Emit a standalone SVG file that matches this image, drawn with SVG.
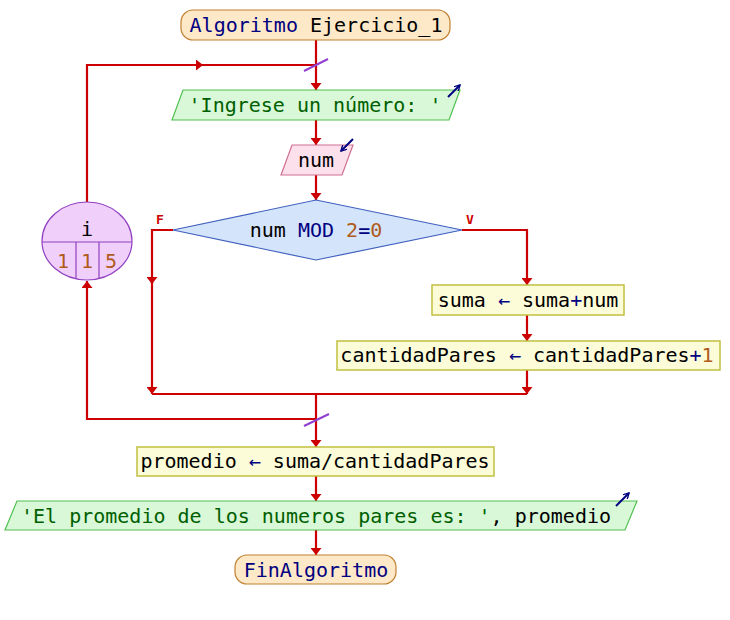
<svg xmlns="http://www.w3.org/2000/svg" width="730" height="620" viewBox="0 0 730 620">
<defs>
<marker id="ah" viewBox="0 0 7 11" refX="7" refY="5.5" markerWidth="7" markerHeight="11" markerUnits="userSpaceOnUse" orient="auto">
<path d="M0,0 L7,5.5 L0,11 z" fill="#cc0000"/>
</marker>
<marker id="ih" viewBox="0 0 8 8" refX="7" refY="4" markerWidth="7" markerHeight="7" markerUnits="userSpaceOnUse" orient="auto">
<path d="M0,0 L7,4 L0,8" fill="none" stroke="#000080" stroke-width="1.6"/>
</marker>
<style>
text{font-family:"DejaVu Sans Mono","Liberation Mono",monospace;font-size:20px;fill:#000}
.kw{fill:#000080}
.num{fill:#b05a20}
.str{fill:#006000}
.c{fill:none;stroke:#cc0000;stroke-width:2.2}
.term{fill:#fde8c8;stroke:#c08030;stroke-width:1.2}
.io{fill:#d8f8d8;stroke:#50c050;stroke-width:1.2}
.in{fill:#fce0ec;stroke:#d07090;stroke-width:1.2}
.dec{fill:#d4e4fa;stroke:#4060c0;stroke-width:1.2}
.proc{fill:#fdfcd8;stroke:#c0c040;stroke-width:1.5}
.loop{fill:#f0d0fa;stroke:#9040c0;stroke-width:1.2}
.icon{fill:none;stroke:#000080;stroke-width:2}
.slash{stroke:#9040d0;stroke-width:2}
.lbl{fill:#cc0000;font-size:13px;font-weight:bold}
</style>
</defs>
<g id="connectors">
<path class="c" d="M316,40 V90" marker-end="url(#ah)"/>
<path class="c" d="M316,120 V145" marker-end="url(#ah)"/>
<path class="c" d="M316,175 V200" marker-end="url(#ah)"/>
<path class="c" d="M462,230 H527 V285" marker-end="url(#ah)"/>
<path class="c" d="M527,315 V341" marker-end="url(#ah)"/>
<path class="c" d="M527,370 V394" marker-end="url(#ah)"/>
<path class="c" d="M173,230 H152 V284" marker-end="url(#ah)"/>
<path class="c" d="M152,282 V394" marker-end="url(#ah)"/>
<path class="c" d="M152,394 H527"/>
<path class="c" d="M316,394 V447" marker-end="url(#ah)"/>
<path class="c" d="M316,419 H87 V281" marker-end="url(#ah)"/>
<path class="c" d="M87,203 V65 H203" marker-end="url(#ah)"/>
<path class="c" d="M200,65 H316"/>
<path class="c" d="M316,476 V501" marker-end="url(#ah)"/>
<path class="c" d="M316,530 V555" marker-end="url(#ah)"/>
<line class="slash" x1="304" y1="71" x2="328" y2="59"/>
<line class="slash" x1="304" y1="426" x2="329" y2="414"/>
<text class="lbl" x="160" y="224" text-anchor="middle">F</text>
<text class="lbl" x="470" y="224" text-anchor="middle">V</text>
</g>
<g id="start">
<rect class="term" x="181" y="10" width="269" height="30" rx="12"/>
<text x="316" y="32" text-anchor="middle"><tspan class="kw">Algoritmo</tspan> Ejercicio_1</text>
</g>
<g id="read-prompt">
<polygon class="io" points="183,90 460,90 449,120 172,120"/>
<text x="315" y="112" text-anchor="middle" class="str">'Ingrese un número: '</text>
<line class="icon" x1="448" y1="97" x2="460" y2="85" marker-end="url(#ih)"/>
</g>
<g id="read-num">
<polygon class="in" points="292,145 353,145 342,175 281,175"/>
<text x="316" y="167" text-anchor="middle">num</text>
<line class="icon" x1="353" y1="139" x2="341" y2="151" marker-end="url(#ih)"/>
</g>
<g id="decision">
<polygon class="dec" points="316,200 462,230 316,260 173,230"/>
<text x="316" y="237" text-anchor="middle">num <tspan class="kw">MOD</tspan> <tspan class="num">2</tspan><tspan class="kw">=</tspan><tspan class="num">0</tspan></text>
</g>
<g id="suma">
<rect class="proc" x="432" y="285" width="192" height="30"/>
<text x="528" y="307" text-anchor="middle">suma <tspan class="kw">←</tspan> suma<tspan class="kw">+</tspan>num</text>
</g>
<g id="cantidad">
<rect class="proc" x="337" y="341" width="383" height="29"/>
<text x="527" y="362" text-anchor="middle">cantidadPares <tspan class="kw">←</tspan> cantidadPares<tspan class="kw">+</tspan><tspan class="num">1</tspan></text>
</g>
<g id="loop-i">
<ellipse class="loop" cx="87" cy="241" rx="45" ry="39"/>
<line x1="42" y1="242" x2="132" y2="242" stroke="#9040c0" stroke-width="1.2"/>
<line x1="76" y1="242" x2="76" y2="278" stroke="#9040c0" stroke-width="1.2"/>
<line x1="99" y1="242" x2="99" y2="278" stroke="#9040c0" stroke-width="1.2"/>
<text x="87" y="236" text-anchor="middle">i</text>
<text x="63" y="268" text-anchor="middle" class="num">1</text>
<text x="87" y="268" text-anchor="middle" class="num">1</text>
<text x="111" y="268" text-anchor="middle" class="num">5</text>
</g>
<g id="promedio">
<rect class="proc" x="137" y="447" width="357" height="29"/>
<text x="315" y="468" text-anchor="middle">promedio <tspan class="kw">←</tspan> suma/cantidadPares</text>
</g>
<g id="write-result">
<polygon class="io" points="17,501 637,501 625,530 5,530"/>
<text x="316" y="523" text-anchor="middle"><tspan class="str">'El promedio de los numeros pares es: '</tspan>, promedio</text>
<line class="icon" x1="616" y1="506" x2="629" y2="493" marker-end="url(#ih)"/>
</g>
<g id="end">
<rect class="term" x="235" y="555" width="161" height="29" rx="12"/>
<text x="316" y="577" text-anchor="middle" class="kw">FinAlgoritmo</text>
</g>
</svg>
